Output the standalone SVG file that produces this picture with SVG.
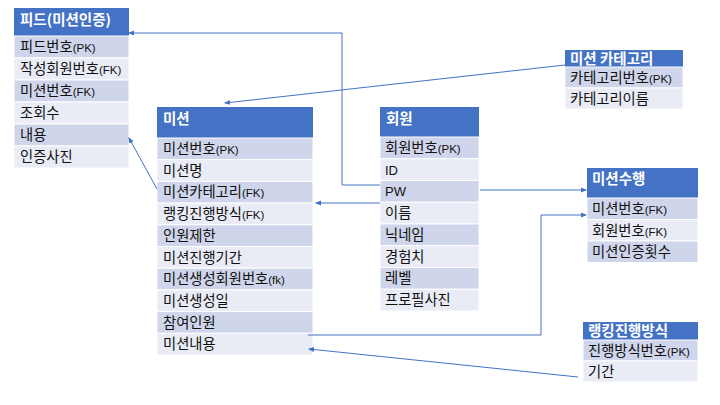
<svg xmlns="http://www.w3.org/2000/svg" width="720" height="405" viewBox="0 0 720 405">
<style>
.hd{fill:#4472C4}
.r1{fill:#CFD5EA;stroke:#fff;stroke-width:1}
.r2{fill:#E9EBF5;stroke:#fff;stroke-width:1}
.ht{font-family:"Noto Sans CJK KR",sans-serif;font-weight:bold;font-size:14.5px;fill:#fff}
.t{font-family:"Noto Sans CJK KR",sans-serif;font-size:14.3px;fill:#111}
.s{font-family:"Liberation Sans",sans-serif;font-size:11.5px}
.l{font-family:"Liberation Sans",sans-serif;font-size:13px}
.c{fill:none;stroke:#4472C4;stroke-width:1;marker-end:url(#a)}
</style>
<defs>
<marker id="a" viewBox="0 0 6 6" refX="5" refY="3" markerWidth="6" markerHeight="6" markerUnits="userSpaceOnUse" orient="auto">
<path d="M0,0.5 L6,3 L0,5.5 Z" fill="#4472C4"/>
</marker>
</defs>
<rect width="720" height="405" fill="#fff"/>

<g id="feed">
<rect class="hd" x="14" y="8" width="115" height="28"/>
<text class="ht" x="20" y="25">피드(미션인증)</text>
<rect class="r1" x="14" y="36" width="115" height="22"/>
<rect class="r2" x="14" y="58" width="115" height="22"/>
<rect class="r1" x="14" y="80" width="115" height="22"/>
<rect class="r2" x="14" y="102" width="115" height="22"/>
<rect class="r1" x="14" y="124" width="115" height="22"/>
<rect class="r2" x="14" y="146" width="115" height="22"/>
<text class="t" x="20" y="52">피드번호<tspan class="s">(PK)</tspan></text>
<text class="t" x="20" y="74">작성회원번호<tspan class="s">(FK)</tspan></text>
<text class="t" x="20" y="96">미션번호<tspan class="s">(FK)</tspan></text>
<text class="t" x="20" y="118">조회수</text>
<text class="t" x="20" y="140">내용</text>
<text class="t" x="20" y="162">인증사진</text>
</g>

<g id="mission">
<rect class="hd" x="157" y="107" width="156" height="31"/>
<text class="ht" x="163" y="124">미션</text>
<rect class="r1" x="157" y="138" width="156" height="21.7"/>
<rect class="r2" x="157" y="159.7" width="156" height="21.7"/>
<rect class="r1" x="157" y="181.4" width="156" height="21.7"/>
<rect class="r2" x="157" y="203.1" width="156" height="21.7"/>
<rect class="r1" x="157" y="224.8" width="156" height="21.7"/>
<rect class="r2" x="157" y="246.5" width="156" height="21.7"/>
<rect class="r1" x="157" y="268.2" width="156" height="21.7"/>
<rect class="r2" x="157" y="289.9" width="156" height="21.7"/>
<rect class="r1" x="157" y="311.6" width="156" height="21.7"/>
<rect class="r2" x="157" y="333.3" width="156" height="21.7"/>
<text class="t" x="163" y="154">미션번호<tspan class="s">(PK)</tspan></text>
<text class="t" x="163" y="175.7">미션명</text>
<text class="t" x="163" y="197.4">미션카테고리<tspan class="s">(FK)</tspan></text>
<text class="t" x="163" y="219.1">랭킹진행방식<tspan class="s">(FK)</tspan></text>
<text class="t" x="163" y="240.8">인원제한</text>
<text class="t" x="163" y="262.5">미션진행기간</text>
<text class="t" x="163" y="284.2">미션생성회원번호<tspan class="s">(fk)</tspan></text>
<text class="t" x="163" y="305.9">미션생성일</text>
<text class="t" x="163" y="327.6">참여인원</text>
<text class="t" x="163" y="349.3">미션내용</text>
</g>

<g id="member">
<rect class="hd" x="380" y="107" width="99" height="30"/>
<text class="ht" x="386" y="124">회원</text>
<rect class="r1" x="380" y="137" width="99" height="21.75"/>
<rect class="r2" x="380" y="158.75" width="99" height="21.75"/>
<rect class="r1" x="380" y="180.5" width="99" height="21.75"/>
<rect class="r2" x="380" y="202.25" width="99" height="21.75"/>
<rect class="r1" x="380" y="224" width="99" height="21.75"/>
<rect class="r2" x="380" y="245.75" width="99" height="21.75"/>
<rect class="r1" x="380" y="267.5" width="99" height="21.75"/>
<rect class="r2" x="380" y="289.25" width="99" height="21.75"/>
<text class="t" x="385" y="153">회원번호<tspan class="s">(PK)</tspan></text>
<text class="t l" x="385" y="174.5">ID</text>
<text class="t l" x="385" y="196.3">PW</text>
<text class="t" x="385" y="218">이름</text>
<text class="t" x="385" y="239.8">닉네임</text>
<text class="t" x="385" y="261.5">경험치</text>
<text class="t" x="385" y="283.3">레벨</text>
<text class="t" x="385" y="305">프로필사진</text>
</g>

<g id="category">
<rect class="hd" x="565" y="50" width="118" height="17"/>
<text class="ht" x="570" y="64">미션 카테고리</text>
<rect class="r1" x="565" y="67" width="118" height="21"/>
<rect class="r2" x="565" y="88" width="118" height="21"/>
<text class="t" x="570" y="83">카테고리번호<tspan class="s">(PK)</tspan></text>
<text class="t" x="570" y="104">카테고리이름</text>
</g>

<g id="perform">
<rect class="hd" x="587" y="168" width="111" height="30"/>
<text class="ht" x="592" y="184">미션수행</text>
<rect class="r1" x="587" y="198" width="111" height="21.5"/>
<rect class="r2" x="587" y="219.5" width="111" height="21.5"/>
<rect class="r1" x="587" y="241" width="111" height="21.5"/>
<text class="t" x="592" y="214">미션번호<tspan class="s">(FK)</tspan></text>
<text class="t" x="592" y="235.5">회원번호<tspan class="s">(FK)</tspan></text>
<text class="t" x="592" y="257">미션인증횟수</text>
</g>

<g id="ranking">
<rect class="hd" x="583" y="322" width="115" height="18"/>
<text class="ht" x="588" y="336">랭킹진행방식</text>
<rect class="r1" x="583" y="340" width="115" height="21"/>
<rect class="r2" x="583" y="361" width="115" height="21"/>
<text class="t" x="588" y="356">진행방식번호<tspan class="s">(PK)</tspan></text>
<text class="t" x="588" y="377">기간</text>
</g>

<g id="connectors">
<path class="c" d="M380,185 H342 V33 H129"/>
<path class="c" d="M565,65 L225,103"/>
<path class="c" d="M157,189 L129,138"/>
<path class="c" d="M380,203 H316"/>
<path class="c" d="M480,190 H586"/>
<path class="c" d="M308,335 H541 V215 H586"/>
<path class="c" d="M578,377 L309,349"/>
</g>
</svg>
